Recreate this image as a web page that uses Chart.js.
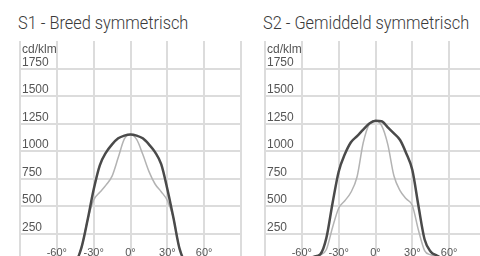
<!DOCTYPE html>
<html>
<head>
<meta charset="utf-8">
<script src="https://cdn.jsdelivr.net/npm/chart.js@4"></script>
<style>
    html, body { margin: 0; padding: 0; background: #fff; overflow: hidden; }
    body { width: 480px; height: 256px; position: relative; }
    .title {
        position: absolute;
        top: 11px;
        font-family: Roboto, "Liberation Sans", sans-serif;
        font-weight: 300;
        font-size: 19px;
        color: #3a3a3a;
        white-space: nowrap;
        transform: scaleX(0.86);
        transform-origin: left top;
    }
    canvas { position: absolute; top: 0; }
</style>
</head>
<body>
<div class="title" style="left:18px">S1 - Breed symmetrisch</div>
<div class="title" style="left:263px">S2 - Gemiddeld symmetrisch</div>
<canvas id="chartS1" width="242" height="261" style="left:0"></canvas>
<canvas id="chartS2" width="242" height="261" style="left:245px"></canvas>

<script>
// angles in degrees, values in cd/klm
const angles = [-90, -60, -55, -50, -45, -40, -35, -30, -25, -20, -15, -10, -5, 0, 5, 10, 15, 20, 25, 30, 35, 40, 45, 50, 55, 60, 90];

const s1Dark  = [0, 0, 0, 0, 0, 120, 370, 650, 870, 985, 1060, 1115, 1140, 1150, 1140, 1115, 1060, 990, 880, 655, 390, 110, 0, 0, 0, 0, 0];
const s1Light = [0, 0, 0, 0, 0, 120, 370, 555, 625, 690, 772, 940, 1110, 1150, 1105, 970, 815, 700, 630, 550, 390, 110, 0, 0, 0, 0, 0];

const s2Dark  = [0, 5, 20, 40, 60, 210, 525, 812, 970, 1080, 1135, 1195, 1250, 1275, 1270, 1215, 1160, 1100, 980, 827, 500, 195, 85, 50, 20, 5, 0];
const s2Light = [0, 5, 20, 40, 55, 105, 305, 480, 548, 625, 766, 1075, 1245, 1275, 1230, 1060, 775, 640, 565, 505, 280, 95, 55, 40, 20, 5, 0];

const xTicks = [-90, -60, -30, 0, 30, 60, 90];

function points(values) {
    return angles.map((a, i) => ({ x: a, y: values[i] }));
}

// small unit label in the top-left corner of the plot
const unitLabel = {
    id: 'unitLabel',
    afterDraw(chart) {
        const { ctx, chartArea } = chart;
        ctx.save();
        ctx.font = '12px "Liberation Sans", Arial, sans-serif';
        ctx.fillStyle = '#555';
        ctx.textBaseline = 'top';
        ctx.textAlign = 'left';
        ctx.fillText('cd/klm', chartArea.left + 2, chartArea.top + 3);
        ctx.restore();
    }
};

function makeChart(id, dark, light) {
    const ctx = document.getElementById(id).getContext('2d');
    return new Chart(ctx, {
        type: 'line',
        data: {
            datasets: [
                {
                    data: points(dark),
                    borderColor: '#4a4a4a',
                    borderWidth: 2.5,
                    pointRadius: 0,
                    cubicInterpolationMode: 'monotone',
                    fill: false
                },
                {
                    data: points(light),
                    borderColor: '#b3b3b3',
                    borderWidth: 1.5,
                    pointRadius: 0,
                    cubicInterpolationMode: 'monotone',
                    fill: false
                }
            ]
        },
        options: {
            responsive: false,
            animation: false,
            layout: { padding: { left: 20, top: 41, right: 1, bottom: 0 } },
            plugins: {
                legend: { display: false },
                tooltip: { enabled: false }
            },
            scales: {
                x: {
                    type: 'linear',
                    min: -90,
                    max: 90,
                    afterBuildTicks: (scale) => {
                        scale.ticks = xTicks.map(v => ({ value: v }));
                    },
                    afterFit: (scale) => {
                        scale.height = 0;
                        scale.paddingLeft = 0;
                        scale.paddingRight = 0;
                    },
                    border: { display: false },
                    grid: { color: '#dcdcdc', lineWidth: 2, drawTicks: false },
                    ticks: {
                        mirror: true,
                        padding: 1,
                        maxRotation: 0,
                        autoSkip: false,
                        color: '#555',
                        font: { family: '"Liberation Sans", Arial, sans-serif', size: 11 },
                        callback: (v) => (Math.abs(v) === 90 ? '' : v + '°')
                    }
                },
                y: {
                    min: 0,
                    max: 2000,
                    afterFit: (scale) => {
                        scale.width = 0;
                        scale.paddingTop = 0;
                        scale.paddingBottom = 0;
                    },
                    border: { display: false },
                    grid: {
                        drawTicks: false,
                        lineWidth: 2,
                        color: (c) => (c.tick && c.tick.value === 2000 ? 'rgba(0,0,0,0)' : '#dcdcdc')
                    },
                    ticks: {
                        stepSize: 250,
                        mirror: true,
                        padding: 2,
                        labelOffset: -6,
                        color: '#555',
                        font: { family: '"Liberation Sans", Arial, sans-serif', size: 12 },
                        callback: (v) => (v === 0 || v === 2000 ? '' : v)
                    }
                }
            }
        },
        plugins: [unitLabel]
    });
}

makeChart('chartS1', s1Dark, s1Light);
makeChart('chartS2', s2Dark, s2Light);
</script>
</body>
</html>
